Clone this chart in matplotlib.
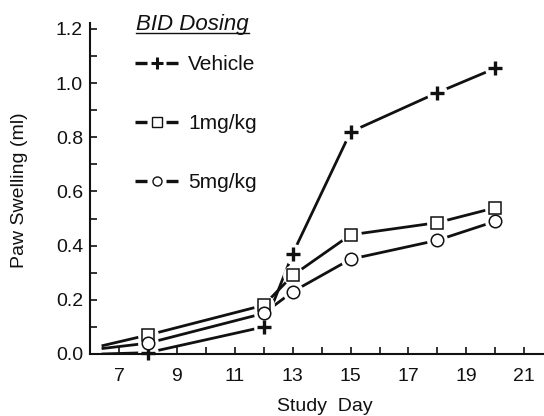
import matplotlib
matplotlib.use("Agg")
import matplotlib.pyplot as plt
from matplotlib.lines import Line2D

plt.rcParams['font.family'] = ['Liberation Sans', 'DejaVu Sans']

days = [6.4, 8, 12, 13, 15, 18, 20]
vehicle = [0.00, 0.005, 0.10, 0.37, 0.82, 0.965, 1.055]
mg1 = [0.03, 0.07, 0.18, 0.29, 0.44, 0.485, 0.54]
mg5 = [0.02, 0.04, 0.15, 0.23, 0.35, 0.42, 0.49]
labels = ['Vehicle', '1mg/kg', '5mg/kg']
markers = ['+', 's', 'o']
series = [vehicle, mg1, mg5]
xticks = [7, 9, 11, 13, 15, 17, 19, 21]
yticks = [0.0, 0.2, 0.4, 0.6, 0.8, 1.0, 1.2]

W, H = 544, 416
fig = plt.figure(figsize=(W / 100, H / 100), dpi=100)
ax = fig.add_axes([90 / W, 62 / H, 1 - 90 / W, 331 / H])

ink = '#111111'
for vals in series:
    ax.plot(days, vals, color=ink, lw=2.0, zorder=2, solid_capstyle='butt')
for vals in series:
    ax.plot(days[1:], vals[1:], ls='none', marker='o', ms=15, mfc='white',
            mec='none', zorder=3, clip_on=False)
msizes = {'+': 10, 's': 9, 'o': 9}
for vals, m in zip(series, markers):
    ax.plot(days[1:], vals[1:], ls='none', marker=m, ms=msizes[m],
            mfc='white', mec=ink, mew=2.4 if m == '+' else 1.1,
            zorder=4, clip_on=False)

ax.set_xlim(6.0, 21.68)
ax.set_ylim(0, 1.222)
ax.set_xticks(xticks)
ax.set_xticks(range(7, 22), minor=True)
ax.set_yticks(yticks)
ax.set_yticks([i / 10 for i in range(0, 13)], minor=True)
ax.set_yticklabels([f"{v:.1f}" for v in yticks])
ax.tick_params(which='both', direction='in', width=1.2, length=5,
               labelsize=14, colors=ink)
ax.tick_params(axis='x', pad=10)
ax.tick_params(axis='y', pad=5)
for s in ['top', 'right']:
    ax.spines[s].set_visible(False)
for s in ['left', 'bottom']:
    ax.spines[s].set_linewidth(1.5)
    ax.spines[s].set_color(ink)
    ax.spines[s].set_zorder(5)

ax.set_xlabel('Study  Day', fontsize=14, color=ink)
ax.xaxis.set_label_coords((325 - 90) / 454, (354 - 398) / 331)
ax.set_ylabel('Paw Swelling (ml)', fontsize=14, color=ink)
ax.yaxis.set_label_coords((28 - 90) / 454, (354 - 190) / 331)

# Legend (manual)
def fx(px): return px / W
def fy(py): return 1 - py / H

t = fig.text(fx(136), fy(30), 'BID Dosing', fontsize=16, style='italic',
             ha='left', va='baseline', color=ink)
fig.canvas.draw()
bb = t.get_window_extent()
fig.add_artist(Line2D([bb.x0 / W, bb.x1 / W], [fy(33), fy(33)],
                      transform=fig.transFigure, color=ink, lw=1.0))

rows = [63, 122, 181]
for lab, m, yy in zip(labels, markers, rows):
    fig.add_artist(Line2D([fx(135), fx(147)], [fy(yy), fy(yy)],
                          transform=fig.transFigure, color=ink, lw=2.4,
                          solid_capstyle='butt'))
    fig.add_artist(Line2D([fx(166), fx(178)], [fy(yy), fy(yy)],
                          transform=fig.transFigure, color=ink, lw=2.4,
                          solid_capstyle='butt'))
    fig.add_artist(Line2D([fx(156.5)], [fy(yy)], transform=fig.transFigure,
                          ls='none', marker=m, ms=8.5 if m == '+' else 6.5,
                          mfc='white', mec=ink,
                          mew=2.2 if m == '+' else 1.0))
    fig.text(fx(188), fy(yy + 7), lab, fontsize=15, ha='left',
             va='baseline', color=ink)

fig.savefig('out.png', dpi=100)
